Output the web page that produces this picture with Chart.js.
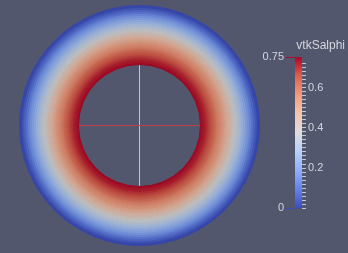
<!DOCTYPE html>
<html>
<head>
<meta charset="utf-8">
<script src="https://cdn.jsdelivr.net/npm/chart.js@4/dist/chart.umd.min.js"></script>
<style>
  html, body { margin: 0; padding: 0; background: #52576e; }
  #wrap { position: relative; width: 348px; height: 253px; overflow: hidden; }
  canvas { position: absolute; }
  #ring, #cross { left: 19px; top: 5px; }
  #bar { left: 250px; top: 30px; }
</style>
</head>
<body>
<div id="wrap">
  <canvas id="ring" width="241" height="241"></canvas>
  <canvas id="cross" width="241" height="241"></canvas>
  <canvas id="bar" width="98" height="195"></canvas>
</div>
<script>
const fieldName = 'vtkSalphi';
const rangeMin = 0;
const rangeMax = 0.75;

// vtkSalphi read across the ring, outer edge first, inner edge last
const ringValues = [0.01, 0.04, 0.07, 0.10, 0.14, 0.17, 0.20, 0.23, 0.26, 0.29,
                    0.32, 0.35, 0.37, 0.40, 0.43, 0.45, 0.48, 0.50, 0.53, 0.55,
                    0.57, 0.59, 0.62, 0.64, 0.66, 0.68, 0.70, 0.72, 0.73, 0.745];

const barTickLabels = [0.2, 0.4, 0.6];
const rangeTickLabels = [0, 0.75];

// the two axis lines inside the hole (unit = outer radius)
const crossH = [{ x: -0.5, y: 0 }, { x: 0.5, y: 0 }];
const crossV = [{ x: 0, y: -0.5 }, { x: 0, y: 0.5 }];

// paraview "cool to warm"
const coolWarm = [
  [0.0, 59, 76, 192],
  [0.125, 98, 130, 234],
  [0.25, 141, 176, 254],
  [0.375, 184, 208, 249],
  [0.5, 221, 221, 221],
  [0.625, 245, 196, 173],
  [0.75, 244, 154, 123],
  [0.875, 222, 96, 77],
  [1.0, 180, 4, 38],
];

const rgb = (s) => `rgb(${s[1]},${s[2]},${s[3]})`;

// shade < 1 darkens (the lit surface looks dimmer than the bar)
function colorFor(v, shade = 1) {
  const t = Math.min(1, Math.max(0, (v - rangeMin) / (rangeMax - rangeMin)));
  for (let i = 1; i < coolWarm.length; i++) {
    const a = coolWarm[i - 1], b = coolWarm[i];
    if (t <= b[0]) {
      const f = (t - a[0]) / (b[0] - a[0]);
      return `rgb(${[1, 2, 3].map(k => Math.round((a[k] + (b[k] - a[k]) * f) * shade)).join(',')})`;
    }
  }
  return rgb(coolWarm[coolWarm.length - 1]);
}

const font = { family: "'Liberation Sans', Arial, sans-serif", size: 11 };
const textColor = '#d4d6dc';
const noPlugins = { legend: { display: false }, tooltip: { enabled: false } };

new Chart(document.getElementById('ring'), {
  type: 'doughnut',
  data: {
    labels: [fieldName],
    datasets: ringValues.map(v => ({
      data: [1],
      backgroundColor: colorFor(v, 0.86),
      borderColor: colorFor(v, 0.86),
      borderWidth: 1,
      hoverOffset: 0,
    })),
  },
  options: {
    responsive: false,
    animation: false,
    events: [],
    cutout: 61,
    plugins: noPlugins,
  },
});

new Chart(document.getElementById('cross'), {
  type: 'scatter',
  data: {
    datasets: [
      { data: crossH, showLine: true, borderColor: '#bc3c48', borderWidth: 1, pointRadius: 0 },
      { data: crossV, showLine: true, borderColor: '#d6ce7a', borderWidth: 1, pointRadius: 0 },
    ],
  },
  options: {
    responsive: false,
    animation: false,
    events: [],
    layout: { padding: 0 },
    scales: {
      x: { type: 'linear', min: -1, max: 1, display: false },
      y: { type: 'linear', min: -1, max: 1, display: false },
    },
    plugins: noPlugins,
  },
});

new Chart(document.getElementById('bar'), {
  type: 'bar',
  data: {
    labels: [fieldName],
    datasets: [{
      data: [[rangeMin, rangeMax]],
      yAxisID: 'y',
      borderWidth: 0,
      barPercentage: 1,
      categoryPercentage: 1,
      backgroundColor: (ctx) => {
        const chart = ctx.chart;
        if (!chart.chartArea) return null;
        const y = chart.scales.y;
        const g = chart.ctx.createLinearGradient(0, y.getPixelForValue(rangeMin), 0, y.getPixelForValue(rangeMax));
        coolWarm.forEach(s => g.addColorStop(s[0], rgb(s)));
        return g;
      },
    }],
  },
  options: {
    responsive: false,
    animation: false,
    events: [],
    layout: { padding: { left: 0, right: 3, top: 0, bottom: 16.7 } },
    plugins: {
      ...noPlugins,
      title: {
        display: true,
        text: fieldName,
        align: 'end',
        color: textColor,
        font: { ...font, size: 12, weight: 'normal' },
        padding: { top: 8.8, bottom: 4.1 },
      },
    },
    scales: {
      x: { display: false },
      y: {
        position: 'right',
        min: rangeMin,
        max: rangeMax,
        ticks: {
          stepSize: 0.02,
          autoSkip: false,
          padding: 2,
          color: textColor,
          font,
          callback: (v) => {
            const l = barTickLabels.find(b => Math.abs(b - v) < 1e-6);
            return l === undefined ? '' : String(l);
          },
        },
        afterBuildTicks: (s) => { s.ticks = s.ticks.filter(t => t.value < rangeMax - 0.005); },
        afterFit: (s) => { s.width = 43; },
        grid: { drawOnChartArea: false, tickLength: 4, color: '#c4c6ce' },
        border: { display: false },
      },
      y2: {
        position: 'left',
        min: rangeMin,
        max: rangeMax,
        afterBuildTicks: (s) => { s.ticks = rangeTickLabels.map(v => ({ value: v })); },
        afterFit: (s) => { s.width = 45; },
        ticks: { padding: 2, color: textColor, font, callback: (v) => String(v) },
        grid: {
          drawOnChartArea: false,
          tickLength: 9,
          color: (ctx) => colorFor(ctx.tick ? ctx.tick.value : rangeMin),
        },
        border: { display: false },
      },
    },
  },
});
</script>
</body>
</html>
